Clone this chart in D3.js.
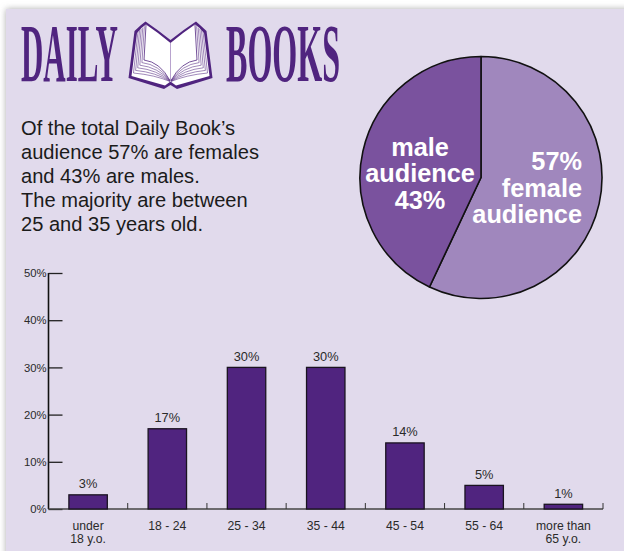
<!DOCTYPE html>
<html>
<head>
<meta charset="utf-8">
<script src="https://cdn.jsdelivr.net/npm/d3@7"></script>
<style>
html, body { margin: 0; padding: 0; background: #fff; overflow: hidden; }
svg { display: block; font-family: "Liberation Sans", Arial, sans-serif; }
</style>
</head>
<body>
<svg width="624" height="551"></svg>
<script>
var ageGroups = ["under|18 y.o.", "18 - 24", "25 - 34", "35 - 44", "45 - 54", "55 - 64", "more than|65 y.o."];
var ageValues = [3, 17, 30, 30, 14, 5, 1];
var yTicks = [0, 10, 20, 30, 40, 50];
var genderNames = ["female", "male"];
var genderValues = [57, 43];
var introLines = ["Of the total Daily Book\u2019s", "audience 57% are females", "and 43% are males.", "The majority are between", "25 and 35 years old."];

var purple = "#50247f";
var svg = d3.select("svg");

// page background + shadow
var defs = svg.append("defs");
defs.append("filter").attr("id", "shadow")
    .attr("x", "-5%").attr("y", "-5%").attr("width", "110%").attr("height", "110%")
    .append("feDropShadow")
    .attr("dx", 0).attr("dy", 0).attr("stdDeviation", 3)
    .attr("flood-color", "#888").attr("flood-opacity", 0.7);

svg.append("rect")
    .attr("x", 6).attr("y", 9)
    .attr("width", 640).attr("height", 570)
    .attr("fill", "#e1daec")
    .attr("filter", "url(#shadow)");

// title, squeezed horizontally to the narrow width of the logo type
function titleWord(word, x, w) {
    var t = svg.append("text")
        .attr("font-family", "Liberation Serif")
        .attr("font-weight", "bold")
        .attr("font-size", 83)
        .attr("fill", purple)
        .text(word);
    var full = t.node().getComputedTextLength();
    t.attr("transform", "translate(" + x + ",81) scale(" + (w / full) + ",1)");
}
titleWord("DAILY", 21, 97);
titleWord("BOOKS", 226, 114);

// book logo
var book = svg.append("g").attr("class", "logo");
book.append("path")
    .attr("d", "M145.5,21.5 Q158,30 170.5,40 Q183,30 196,21.5 L200,25 L206.5,31 L212.5,78 L177,89 L170.5,85 L164,89 L128.5,78 L134.5,31 L141,25 Z")
    .attr("fill", purple);
book.append("path")
    .attr("d", "M146,24.5 Q158,32.5 170.5,43 Q183,32.5 195,24.5 L199,27.5 L204,33 L209.5,76 L176,85.5 L170.5,81.5 L165,85.5 L131.5,76 L137,33 L142,27.5 Z")
    .attr("fill", "#fff");
var pageEdges = [0, 1, 2, 3, 4, 5];
pageEdges.forEach(function(i) {
    book.append("path")
        .attr("d", "M" + (146 - i * 1.6) + "," + (25 + i * 1.3) + " L" + (144 - i * 2.1) + "," + (60 + i * 2.6)
            + " Q" + (160 - i) + "," + (62 + i * 2.6) + " 170," + (80.5 + i * 0.2))
        .attr("fill", "none").attr("stroke", purple).attr("stroke-width", i == 0 ? 0.8 : 0.55);
    book.append("path")
        .attr("d", "M" + (195 + i * 1.6) + "," + (25 + i * 1.3) + " L" + (197 + i * 2.1) + "," + (60 + i * 2.6)
            + " Q" + (181 + i) + "," + (62 + i * 2.6) + " 171," + (80.5 + i * 0.2))
        .attr("fill", "none").attr("stroke", purple).attr("stroke-width", i == 0 ? 0.8 : 0.55);
});
book.append("path")
    .attr("d", "M170.5,43 L170.5,80")
    .attr("stroke", "#a68bc2").attr("stroke-width", 0.8);

// intro text
svg.append("g").selectAll("text")
    .data(introLines)
    .join("text")
    .attr("x", 21)
    .attr("y", function(d, i) { return 135 + i * 24; })
    .attr("font-size", 20.1)
    .attr("fill", "#1b1b1b")
    .text(function(d) { return d; });

// pie
var pieG = svg.append("g").attr("transform", "translate(481,177.5)");
var pie = d3.pie().sort(null).value(function(d) { return d; });
var arc = d3.arc().innerRadius(0).outerRadius(121);
var pieColor = d3.scaleOrdinal().domain(genderNames).range(["#a087bd", "#7a529e"]);

pieG.selectAll("path")
    .data(pie(genderValues))
    .join("path")
    .attr("d", arc)
    .attr("fill", function(d, i) { return pieColor(genderNames[i]); })
    .attr("stroke", "#111")
    .attr("stroke-width", 1.6)
    .attr("stroke-linejoin", "round");

function pieLabel(lines, x, y, anchor) {
    svg.append("text")
        .attr("text-anchor", anchor)
        .attr("font-size", 25.3)
        .attr("font-weight", "bold")
        .attr("fill", "#fff")
        .selectAll("tspan")
        .data(lines)
        .join("tspan")
        .attr("x", x)
        .attr("y", function(d, i) { return y + i * 26.5; })
        .text(function(d) { return d; });
}
pieLabel(["male", "audience", genderValues[1] + "%"], 420, 155.5, "middle");
pieLabel([genderValues[0] + "%", "female", "audience"], 582, 170, "end");

// bar chart
var x = d3.scaleBand().domain(ageGroups).range([48.5, 603]).paddingInner(0.515).paddingOuter(0.2575);
var y = d3.scaleLinear().domain([0, 50]).range([509, 273]);
var step = x.step();

var yAxis = svg.append("g")
    .attr("transform", "translate(48.5,0)")
    .call(d3.axisLeft(y).tickValues(yTicks).tickSize(-14).tickPadding(2).tickFormat(function(d) { return d + "%"; }));
yAxis.select(".domain").attr("d", "M0,509V273").attr("stroke", "#111").attr("stroke-width", 1.6);
yAxis.selectAll("line").attr("stroke", "#222").attr("stroke-width", 1.3);
yAxis.selectAll("text")
    .attr("font-family", "Liberation Sans")
    .attr("font-size", 11.3)
    .attr("fill", "#2a2a2a");

var xAxis = svg.append("g").attr("transform", "translate(0,509)");
xAxis.append("line")
    .attr("x1", 48.5).attr("x2", 603)
    .attr("stroke", "#444").attr("stroke-width", 1.3);
xAxis.selectAll(".sep")
    .data(ageGroups)
    .join("line")
    .attr("class", "sep")
    .attr("x1", function(d) { return x(d) + x.bandwidth() + (step - x.bandwidth()) / 2; })
    .attr("x2", function(d) { return x(d) + x.bandwidth() + (step - x.bandwidth()) / 2; })
    .attr("y1", 0).attr("y2", -6)
    .attr("stroke", "#333").attr("stroke-width", 1);

xAxis.selectAll(".age")
    .data(ageGroups)
    .join("text")
    .attr("class", "age")
    .attr("text-anchor", "middle")
    .attr("font-size", 12.2)
    .attr("fill", "#2a2a2a")
    .each(function(d) {
        d3.select(this).selectAll("tspan")
            .data(d.split("|"))
            .join("tspan")
            .attr("x", x(d) + x.bandwidth() / 2)
            .attr("y", function(l, i) { return 21 + i * 13; })
            .text(function(l) { return l; });
    });

svg.append("g").selectAll("rect")
    .data(ageValues)
    .join("rect")
    .attr("x", function(d, i) { return x(ageGroups[i]); })
    .attr("y", function(d) { return y(d); })
    .attr("width", x.bandwidth())
    .attr("height", function(d) { return 509 - y(d); })
    .attr("fill", purple)
    .attr("stroke", "#1a1320")
    .attr("stroke-width", 1.3);

svg.append("g").selectAll("text")
    .data(ageValues)
    .join("text")
    .attr("x", function(d, i) { return x(ageGroups[i]) + x.bandwidth() / 2; })
    .attr("y", function(d) { return y(d) - 6.5; })
    .attr("text-anchor", "middle")
    .attr("font-size", 12.8)
    .attr("fill", "#2a2a2a")
    .text(function(d) { return d + "%"; });
</script>
</body>
</html>
